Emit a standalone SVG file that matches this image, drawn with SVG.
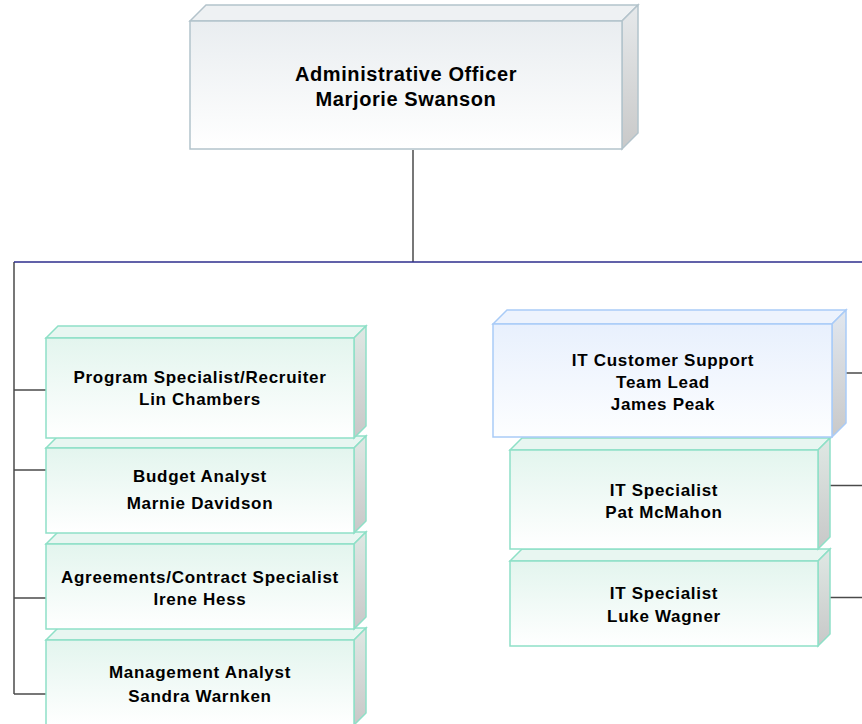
<svg xmlns="http://www.w3.org/2000/svg" width="862" height="724" viewBox="0 0 862 724">
<defs>
<linearGradient id="gFrontGray" x1="0" y1="0" x2="0" y2="1"><stop offset="0" stop-color="#e9edf0"/><stop offset="1" stop-color="#ffffff"/></linearGradient>
<linearGradient id="gSideGray" x1="0" y1="0" x2="0" y2="1"><stop offset="0" stop-color="#e6e9eb"/><stop offset="1" stop-color="#c9c9c9"/></linearGradient>
<linearGradient id="gFrontGreen" x1="0" y1="0" x2="0" y2="1"><stop offset="0" stop-color="#e3f5ee"/><stop offset="1" stop-color="#ffffff"/></linearGradient>
<linearGradient id="gSideGreen" x1="0" y1="0" x2="0" y2="1"><stop offset="0" stop-color="#dfe8e4"/><stop offset="1" stop-color="#c8c8c8"/></linearGradient>
<linearGradient id="gFrontBlue" x1="0" y1="0" x2="0" y2="1"><stop offset="0" stop-color="#e8f0fd"/><stop offset="1" stop-color="#fdfeff"/></linearGradient>
<linearGradient id="gSideBlue" x1="0" y1="0" x2="0" y2="1"><stop offset="0" stop-color="#e1e7ef"/><stop offset="1" stop-color="#c9c9c9"/></linearGradient>
</defs>
<style>
.gray{stroke:#b3c3cb;stroke-width:1.5;stroke-linejoin:miter}
.green{stroke:#8ee0c7;stroke-width:1.5;stroke-linejoin:miter}
.blue{stroke:#a9cbf7;stroke-width:1.5;stroke-linejoin:miter}
.gray .front{fill:url(#gFrontGray)} .gray .top{fill:#eef1f3} .gray .side{fill:url(#gSideGray)}
.green .front{fill:url(#gFrontGreen)} .green .top{fill:#e8f6f1} .green .side{fill:url(#gSideGreen)}
.blue .front{fill:url(#gFrontBlue)} .blue .top{fill:#edf3fd} .blue .side{fill:url(#gSideBlue)}
text{font-family:"Liberation Sans",Arial,sans-serif;font-weight:bold;fill:#000;text-anchor:middle;stroke:none;font-size:17px;letter-spacing:0.7px}
text.big{font-size:20px;letter-spacing:0.6px}
.conn{fill:none;stroke:#4a4a4a;stroke-width:1.5}
.bus{fill:none;stroke:#2d2d8c;stroke-width:1.5}
</style>
<rect width="862" height="724" fill="#ffffff"/>

<g id="connectors">
<line class="conn" x1="413" y1="150" x2="413" y2="262"/>
<line class="conn" x1="14" y1="262" x2="14" y2="694"/>
<line class="conn" x1="14" y1="390" x2="46" y2="390"/>
<line class="conn" x1="14" y1="470" x2="46" y2="470"/>
<line class="conn" x1="14" y1="598" x2="46" y2="598"/>
<line class="conn" x1="14" y1="694" x2="46" y2="694"/>
<line class="conn" x1="846" y1="373" x2="862" y2="373"/>
<line class="conn" x1="830" y1="485.5" x2="862" y2="485.5"/>
<line class="conn" x1="830" y1="597.5" x2="862" y2="597.5"/>
<line class="bus" x1="14" y1="262" x2="862" y2="262"/>
</g>

<g id="node-admin" class="gray">
<polygon class="top" points="190,21 206,5 638,5 622,21"/>
<polygon class="side" points="622,21 638,5 638,133 622,149"/>
<rect class="front" x="190" y="21" width="432" height="128"/>
<text class="big" x="406" y="81">Administrative Officer</text>
<text class="big" x="406" y="106">Marjorie Swanson</text>
</g>

<g id="node-management" class="green">
<polygon class="top" points="46,640 58,628 366,628 354,640"/>
<polygon class="side" points="354,640 366,628 366,713 354,725"/>
<rect class="front" x="46" y="640" width="308" height="85"/>
<text x="200" y="678">Management Analyst</text>
<text x="200" y="701.5">Sandra Warnken</text>
</g>

<g id="node-agreements" class="green">
<polygon class="top" points="46,544 58,532 366,532 354,544"/>
<polygon class="side" points="354,544 366,532 366,617 354,629"/>
<rect class="front" x="46" y="544" width="308" height="85"/>
<text x="200" y="582.5">Agreements/Contract Specialist</text>
<text x="200" y="605">Irene Hess</text>
</g>

<g id="node-budget" class="green">
<polygon class="top" points="46,448 58,436 366,436 354,448"/>
<polygon class="side" points="354,448 366,436 366,521 354,533"/>
<rect class="front" x="46" y="448" width="308" height="85"/>
<text x="200" y="482">Budget Analyst</text>
<text x="200" y="508.5">Marnie Davidson</text>
</g>

<g id="node-program" class="green">
<polygon class="top" points="46,338 58,326 366,326 354,338"/>
<polygon class="side" points="354,338 366,326 366,426 354,438"/>
<rect class="front" x="46" y="338" width="308" height="100"/>
<text x="200" y="383">Program Specialist/Recruiter</text>
<text x="200" y="405">Lin Chambers</text>
</g>

<g id="node-it-wagner" class="green">
<polygon class="top" points="510,561 522,549 830,549 818,561"/>
<polygon class="side" points="818,561 830,549 830,634 818,646"/>
<rect class="front" x="510" y="561" width="308" height="85"/>
<text x="664" y="599">IT Specialist</text>
<text x="664" y="622">Luke Wagner</text>
</g>

<g id="node-it-mcmahon" class="green">
<polygon class="top" points="510,450 522,438 830,438 818,450"/>
<polygon class="side" points="818,450 830,438 830,537 818,549"/>
<rect class="front" x="510" y="450" width="308" height="99"/>
<text x="664" y="496">IT Specialist</text>
<text x="664" y="518">Pat McMahon</text>
</g>

<g id="node-it-lead" class="blue">
<polygon class="top" points="493,324 507,310 846,310 832,324"/>
<polygon class="side" points="832,324 846,310 846,423 832,437"/>
<rect class="front" x="493" y="324" width="339" height="113"/>
<text x="663" y="366">IT Customer Support</text>
<text x="663" y="387.5">Team Lead</text>
<text x="663" y="409.5">James Peak</text>
</g>
</svg>
